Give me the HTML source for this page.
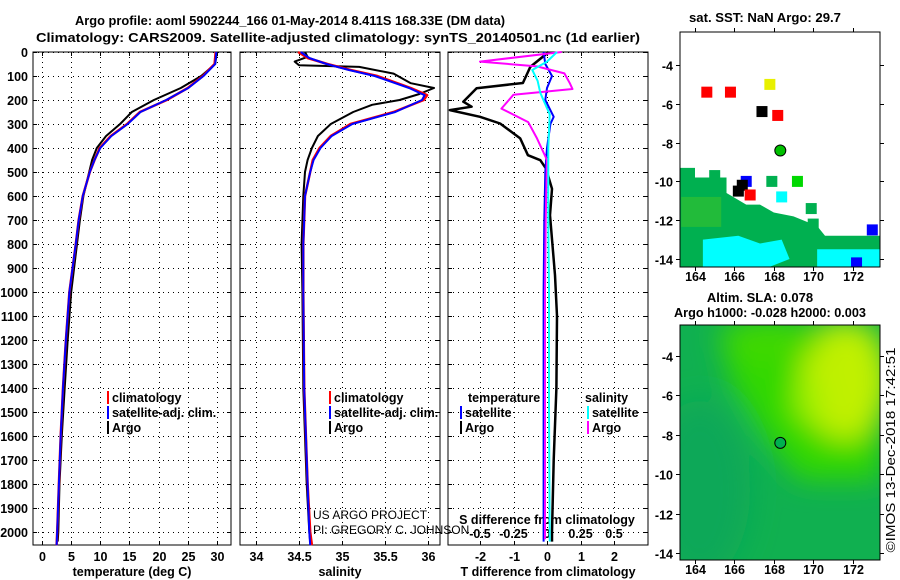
<!DOCTYPE html>
<html><head><meta charset="utf-8"><style>
html,body{margin:0;padding:0;background:#fff;}
svg{display:block;font-family:"Liberation Sans",sans-serif;}
.t{font-weight:bold;font-size:13px;}
</style></head><body>
<svg id="s" width="900" height="580" viewBox="0 0 900 580" xmlns="http://www.w3.org/2000/svg">
<text class="t" x="290" y="25" text-anchor="middle" textLength="430" lengthAdjust="spacingAndGlyphs">Argo profile: aoml 5902244_166 01-May-2014 8.411S 168.33E (DM data)</text>
<text class="t" x="338" y="42" text-anchor="middle" textLength="604" lengthAdjust="spacingAndGlyphs">Climatology: CARS2009. Satellite-adjusted climatology: synTS_20140501.nc (1d earlier)</text>
<text class="t" x="765" y="22" text-anchor="middle" textLength="152" lengthAdjust="spacingAndGlyphs">sat. SST: NaN Argo: 29.7</text>
<text class="t" x="760" y="302" text-anchor="middle">Altim. SLA: 0.078</text>
<text class="t" x="770" y="317" text-anchor="middle" textLength="192" lengthAdjust="spacingAndGlyphs">Argo h1000: -0.028 h2000: 0.003</text>
<text x="895" y="450" font-size="12.5" text-anchor="middle" transform="rotate(-90 895 450)" textLength="205" lengthAdjust="spacingAndGlyphs">©IMOS 13-Dec-2018 17:42:51</text>
<g id="g"></g>
</svg>
<script>
// ---- data ----
var tDepth=[0,50,100,150,200,250,300,350,400,450,500,600,700,800,1000,1200,1400,1600,1800,2000,2055];
var tClim=[29.8,29.6,27.6,25.0,21.4,16.8,14.6,11.8,9.9,9.0,8.2,7.0,6.3,5.8,4.7,4.1,3.6,3.2,2.9,2.6,2.5];
var tSat=[29.9,29.7,27.7,25.1,21.3,16.9,14.7,11.9,10.0,9.0,8.2,7.0,6.3,5.8,4.7,4.1,3.6,3.2,2.9,2.6,2.5];
var tArgoD=[0,50,100,150,200,250,300,350,400,450,500,600,700,800,1000,1200,1400,1600,1800,2000,2040];
var tArgo=[30.0,29.7,27.3,23.8,19.2,15.4,13.4,11.0,9.4,8.6,8.1,7.1,6.5,6.0,5.0,4.4,3.9,3.4,3.0,2.8,2.7];
var sDepth=[0,25,50,75,100,150,180,200,250,300,350,400,450,500,600,800,1000,1400,1800,2000,2055];
var sClim=[34.49,34.6,34.83,35.1,35.41,35.8,35.99,35.95,35.6,35.1,34.87,34.74,34.66,34.63,34.57,34.55,34.55,34.56,34.6,34.63,34.65];
var sSat=[34.52,34.62,34.82,35.08,35.38,35.78,35.96,35.93,35.62,35.12,34.88,34.75,34.67,34.63,34.57,34.55,34.55,34.56,34.6,34.62,34.63];
var sArgoD=[0,20,40,55,62,90,130,150,175,200,220,250,300,350,400,450,500,600,800,1000,1400,1800,2000,2040];
var sArgo=[34.57,34.6,34.45,34.5,35.2,35.6,35.8,36.07,35.9,35.67,35.35,35.13,34.87,34.72,34.65,34.6,34.57,34.55,34.53,34.54,34.55,34.59,34.62,34.63];
var dtArgoD=[0,62,129,151,207,228,242,270,298,360,430,451,486,570,680,930,1100,1400,1700,2000,2040];
var dtArgo=[0.05,-0.5,-0.72,-2.1,-2.5,-2.25,-2.9,-2.0,-1.4,-0.8,-0.57,-0.2,-0.03,0.15,0.09,0.24,0.3,0.28,0.2,0.15,0.15];
var dtSatD=[0,50,100,150,200,270,300,400,500,700,1000,1500,2000,2040];
var dtSat=[-0.1,-0.05,0.15,0,-0.05,0.2,0.1,0,-0.05,-0.08,-0.1,-0.1,-0.1,-0.1];
var dsArgoD=[0,40,60,89,130,154,178,236,292,360,450,700,1000,1500,2000,2030];
var dsArgo=[0.11,-0.5,-0.075,0.13,0.17,0.19,-0.25,-0.34,-0.14,-0.075,0,-0.01,-0.015,-0.015,-0.015,-0.015];
var dsSatD=[0,40,75,120,170,260,400,700,1000,1500,2000,2040];
var dsSat=[0.075,0,-0.11,-0.07,-0.05,0.02,0.01,0.01,0.015,0.015,0.02,0.02];
var depthTicks=[0,100,200,300,400,500,600,700,800,900,1000,1100,1200,1300,1400,1500,1600,1700,1800,1900,2000];
var tTicks=[0,5,10,15,20,25,30];
var sTicks=[34,34.5,35,35.5,36];
var dtTicks=[-2,-1,0,1,2];
var dsTicks=[-0.5,-0.25,0,0.25,0.5];
var lonTicks=[164,166,168,170,172];
var latTicks=[-4,-6,-8,-10,-12,-14];
// SST map squares: lon, lat, color
var sqLon=[164.6,165.8,167.8,167.4,168.2,165.0,167.9,169.2,168.4,169.9,166.6,166.4,166.2,166.8,173.0,172.2,170.0];
var sqLat=[-5.4,-5.4,-5.0,-6.4,-6.6,-9.7,-10.0,-10.0,-10.8,-11.4,-10.0,-10.2,-10.5,-10.7,-12.5,-14.2,-12.2];
var sqCol=['#f00','#f00','#e8f000','#000','#f00','#00b050','#00b050','#00d800','#0ff','#00b050','#00f','#000','#000','#f00','#00f','#00f','#00b050'];
var argoLon=168.33, argoLat=-8.41;

var NS='http://www.w3.org/2000/svg', G=document.getElementById('g');
function el(t,a,p){var e=document.createElementNS(NS,t);for(var k in a)e.setAttribute(k,a[k]);(p||G).appendChild(e);return e;}
var Y0=52, PY=0.24, YB=545;
function yD(d){return Y0+d*PY;}
function xT(v){return 42+v*5.83;}
function xS(v){return 256+(v-34)*86;}
function xDT(v){return 547+v*33.5;}
function xDS(v){return 547+v*4*33.5;}
function line(xf,xs,ds,col,name,w){
  var pts=[];for(var i=0;i<xs.length;i++)pts.push(xf(xs[i]).toFixed(1)+','+yD(ds[i]).toFixed(1));
  var p=el('polyline',{points:pts.join(' '),fill:'none',stroke:col,'stroke-width':w||2,'stroke-linejoin':'round'});
  
  
}
function txt(x,y,s,opt){var a={x:x,y:y,'font-size':opt&&opt.fs||12.5,'font-weight':opt&&opt.nb?'normal':'bold','text-anchor':opt&&opt.a||'middle'};var t=el('text',a);t.textContent=s;return t;}
function panel(x0,x1,ticks,xf,lab,title,name){
  var gp=el('g',{});
  
  
  el('rect',{x:x0,y:Y0,width:x1-x0,height:YB-Y0,fill:'#fff',stroke:'#000','stroke-width':1},gp);
  depthTicks.forEach(function(d){var y=yD(d)+.5;el('line',{x1:x0,x2:x1,y1:y,y2:y,stroke:'#000','stroke-dasharray':'1,4'},gp);el('line',{x1:x0,x2:x0+4,y1:y,y2:y,stroke:'#000'},gp);el('line',{x1:x1-4,x2:x1,y1:y,y2:y,stroke:'#000'},gp);});
  ticks.forEach(function(v,i){var x=Math.round(xf(v))+.5;el('line',{x1:x,x2:x,y1:Y0,y2:YB,stroke:'#000','stroke-dasharray':'1,4'},gp);el('line',{x1:x,x2:x,y1:YB-4,y2:YB,stroke:'#000'},gp);el('line',{x1:x,x2:x,y1:Y0,y2:Y0+4,stroke:'#000'},gp);var t=txt(x,561,lab[i]);});
  var tt=txt((x0+x1)/2,576,title);
}
panel(33,231,tTicks,xT,tTicks.map(String),'temperature (deg C)','temperature-panel');
panel(240,440,sTicks,xS,sTicks.map(String),'salinity','salinity-panel');
panel(448,648,dtTicks,xDT,dtTicks.map(String),'T difference from climatology','difference-panel');
depthTicks.forEach(function(d){var t=txt(28,yD(d)+5,String(d),{a:'end'});});
dsTicks.forEach(function(v){var t=txt(xDS(v),538,String(v));});
var st=txt(547,524,'S difference from climatology');
line(xT,tArgo,tArgoD,'#000','temperature-argo-line',2);
line(xT,tClim,tDepth,'#f00','temperature-clim-line',2.5);
line(xT,tSat,tDepth,'#00f','temperature-sat-line',2);
line(xS,sArgo,sArgoD,'#000','salinity-argo-line',2);
line(xS,sClim,sDepth,'#f00','salinity-clim-line',2.5);
line(xS,sSat,sDepth,'#00f','salinity-sat-line',2);
line(xDT,dtArgo,dtArgoD,'#000','tdiff-argo-line',2.5);
line(xDT,dtSat,dtSatD,'#00f','tdiff-sat-line',2);
line(xDS,dsArgo,dsArgoD,'#f0f','sdiff-argo-line',2);
line(xDS,dsSat,dsSatD,'#0ff','sdiff-sat-line',2);
function leg(x,y,col,s,name){var g=el('g',{});el('rect',{x:x,y:y-11,width:2,height:13,fill:col},g);var t=el('text',{x:x+5,y:y,'font-size':12.5,'font-weight':'bold'},g);t.textContent=s;}
leg(107,402,'#f00','climatology','legend-climatology');leg(107,417,'#00f','satellite-adj. clim.','legend-satellite');leg(107,432,'#000','Argo','legend-argo');
leg(329,402,'#f00','climatology','legend-climatology-s');leg(329,417,'#00f','satellite-adj. clim.','legend-satellite-s');leg(329,432,'#000','Argo','legend-argo-s');
var lt=txt(468,402,'temperature',{a:'start'});
leg(460,417,'#00f','satellite','legend-t-satellite');leg(460,432,'#000','Argo','legend-t-argo');
var ls=txt(585,402,'salinity',{a:'start'});
leg(587,417,'#0ff','satellite','legend-s-satellite');leg(587,432,'#f0f','Argo','legend-s-argo');
var c1=txt(313,519,'US ARGO PROJECT',{nb:1,a:'start',fs:12});
var c2=txt(313,534,'PI: GREGORY C. JOHNSON',{nb:1,a:'start',fs:12});
function mlon(v){return 695+(v-164)*19.7;}
function m1lat(v){return 65+(-4-v)*19.4;}
function m2lat(v){return 356+(-4-v)*19.7;}
var defs=el('defs',{});
defs.innerHTML='<clipPath id="c1"><rect x="680" y="32" width="200" height="235"/></clipPath><clipPath id="c2"><rect x="680" y="325" width="200" height="235"/></clipPath><filter id="bl"><feGaussianBlur stdDeviation="14"/></filter>';
var m1=el('g',{'clip-path':'url(#c1)'});
el('rect',{x:680,y:32,width:200,height:235,fill:'#fff'},m1);
var gp=[[163,-9.3],[164,-9.3],[164,-9.8],[165.6,-9.8],[165.6,-10.6],[166.6,-11.2],[167.3,-11.2],[168,-11.6],[169,-11.8],[170.2,-12.3],[170.6,-12.8],[173.4,-12.8],[173.4,-14.6],[163,-14.6]];
el('polygon',{points:gp.map(function(p){return mlon(p[0])+','+m1lat(p[1]);}).join(' '),fill:'#00b050'},m1);
var cp=[[164.4,-13.0],[166.2,-12.8],[167.3,-13.2],[168.4,-13.0],[168.8,-14.0],[167.3,-14.6],[164.4,-14.6]];
el('polygon',{points:cp.map(function(p){return mlon(p[0])+','+m1lat(p[1]);}).join(' '),fill:'#0ff'},m1);
var cp2=[[170.2,-13.5],[173.4,-13.5],[173.4,-14.6],[170.2,-14.6]];
el('polygon',{points:cp2.map(function(p){return mlon(p[0])+','+m1lat(p[1]);}).join(' '),fill:'#0ff'},m1);
el('rect',{x:mlon(163.3),y:m1lat(-10.8),width:40,height:30,fill:'#30c030',opacity:.7},m1);
for(var i=0;i<sqLon.length;i++){var r=el('rect',{x:mlon(sqLon[i])-5.5,y:m1lat(sqLat[i])-5.5,width:11,height:11,fill:sqCol[i]},m1);}
var ac=el('circle',{cx:mlon(argoLon),cy:m1lat(argoLat),r:5.5,fill:'#00c000',stroke:'#000','stroke-width':1},m1);
var m2=el('g',{'clip-path':'url(#c2)'});
el('rect',{x:680,y:325,width:200,height:235,fill:'#10b050'},m2);
var bg=el('g',{filter:'url(#bl)'},m2);
el('polygon',{points:'720,325 880,325 880,480 800,480 760,430 730,380',fill:'#30d800'},bg);
el('ellipse',{cx:845,cy:380,rx:45,ry:60,fill:'#c0f000'},bg);
el('ellipse',{cx:770,cy:340,rx:50,ry:22,fill:'#40d800'},bg);
el('ellipse',{cx:808,cy:400,rx:14,ry:22,fill:'#a0f000'},bg);
el('ellipse',{cx:700,cy:490,rx:50,ry:90,fill:'#10a858'},bg);
var ac2=el('circle',{cx:mlon(argoLon),cy:m2lat(argoLat),r:5.5,fill:'#00b050',stroke:'#000','stroke-width':1},m2);
function mapAxes(yt,yb,latf,name){
  el('rect',{x:680,y:yt,width:200,height:yb-yt,fill:'none',stroke:'#000'});
  lonTicks.forEach(function(v){var x=Math.round(mlon(v))+.5;el('line',{x1:x,x2:x,y1:yb,y2:yb+4,stroke:'#000'});el('line',{x1:x,x2:x,y1:yt-4,y2:yt,stroke:'#000'});var t=txt(x,yb+14,String(v));});
  latTicks.forEach(function(v){var y=Math.round(latf(v))+.5;el('line',{x1:676,x2:680,y1:y,y2:y,stroke:'#000'});el('line',{x1:880,x2:884,y1:y,y2:y,stroke:'#000'});var t=txt(673,y+5,String(v),{a:'end'});});
}
mapAxes(32,267,m1lat,'sst-map');
mapAxes(325,560,m2lat,'sla-map');
</script>
</body></html>
